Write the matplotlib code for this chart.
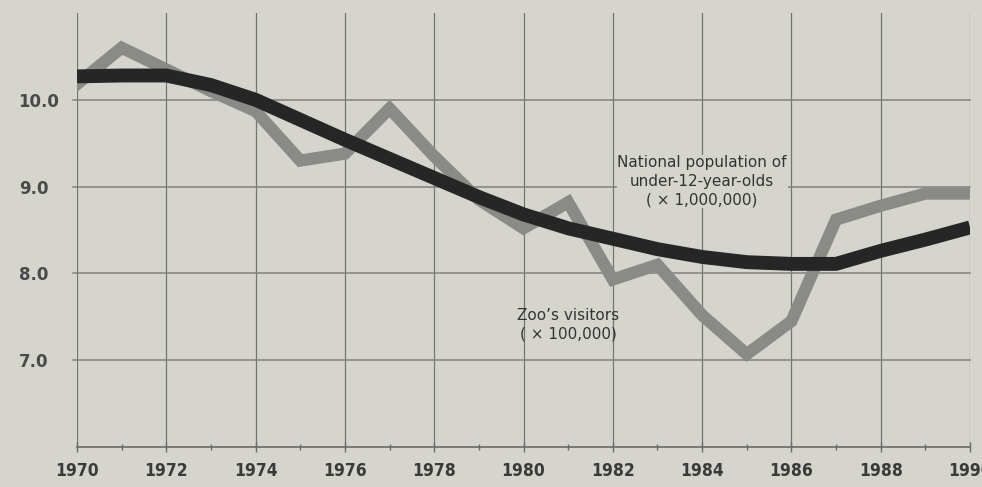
import matplotlib
matplotlib.use("Agg")
from matplotlib import pyplot as plt

years = [1970, 1971, 1972, 1973, 1974, 1975, 1976, 1977, 1978, 1979, 1980,
         1981, 1982, 1983, 1984, 1985, 1986, 1987, 1988, 1989, 1990]
# zoo's visitors (x 100,000)
visitors = [10.18, 10.6, 10.35, 10.1, 9.87, 9.3, 9.38, 9.9, 9.35, 8.85, 8.52,
            8.82, 7.93, 8.1, 7.52, 7.07, 7.45, 8.62, 8.78, 8.92, 8.92]
# national population of under-12-year-olds (x 1,000,000)
population = [10.27, 10.28, 10.28, 10.17, 10.0, 9.77, 9.54, 9.32, 9.1, 8.88, 8.68,
              8.52, 8.4, 8.28, 8.19, 8.13, 8.11, 8.11, 8.26, 8.39, 8.53]
ytick_vals = [7.0, 8.0, 9.0, 10.0]
ytick_labels = ["7.0", "8.0", "9.0", "10.0"]
xtick_vals = list(range(1970, 1991, 2))

bg = "#d6d5cd"
fig = plt.figure(figsize=(9.82, 4.87), dpi=100, facecolor=bg)
ax = fig.add_axes([0.0784, 0.082, 0.9094, 0.8913], facecolor=bg)

ax.set_xlim(1970, 1990)
ax.set_ylim(6, 11)

# grid
for x in xtick_vals:
    ax.axvline(x, color="#747474", lw=0.9, zorder=1)
for y in ytick_vals:
    ax.plot([1969.9, 1990], [y, y], color="#808080", lw=1.1, zorder=1, clip_on=False)

ax.plot(years, visitors, color="#8a8a87", lw=8.8, solid_joinstyle="miter", zorder=3)
ax.plot(years, population, color="#262626", lw=10, solid_capstyle="butt", zorder=4)

for s in ["top", "right", "left"]:
    ax.spines[s].set_visible(False)
ax.spines["bottom"].set_color("#6a6a6a")
ax.spines["bottom"].set_linewidth(1.2)

ax.set_xticks(xtick_vals)
ax.set_xticklabels([str(x) for x in xtick_vals],
                   family=["DejaVu Sans"], fontstretch="condensed",
                   fontweight="bold", fontsize=12.5, color="#3a3a3a")
ax.set_xticks(range(1971, 1990, 2), minor=True)
ax.tick_params(axis="x", which="major", direction="inout", length=7, width=1,
               color="#6a6a6a", pad=7)
ax.tick_params(axis="x", which="minor", direction="inout", length=5, width=1,
               color="#6a6a6a")

ax.set_yticks(ytick_vals)
ax.set_yticklabels(ytick_labels, fontsize=12, fontweight="bold", color="#4a4a4a")
ax.tick_params(axis="y", length=0, pad=42)
for lab in ax.get_yticklabels():
    lab.set_ha("left")

box = dict(facecolor=bg, edgecolor="none", pad=0.5)
ax.text(1984.0, 9.06, "National population of\nunder-12-year-olds\n( \u00d7 1,000,000)",
        ha="center", va="center", fontsize=11, color="#333333",
        linespacing=1.3, bbox=box, zorder=5)
ax.text(1981.0, 7.41, "Zoo\u2019s visitors\n( \u00d7 100,000)",
        ha="center", va="center", fontsize=11, color="#333333",
        linespacing=1.3, zorder=5)

fig.savefig("out.png", dpi=100, facecolor=bg)
